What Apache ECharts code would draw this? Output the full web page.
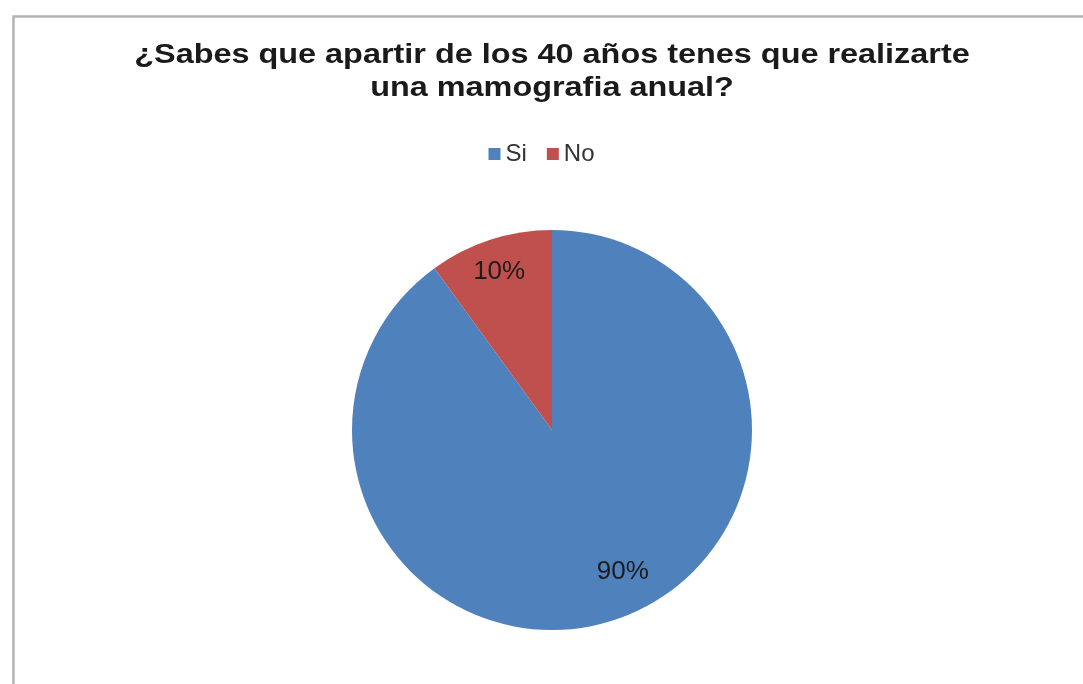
<!DOCTYPE html>
<html>
<head>
<meta charset="utf-8">
<script src="https://cdn.jsdelivr.net/npm/echarts@6/dist/echarts.min.js"></script>
<style>
  html, body { margin: 0; padding: 0; background: #ffffff; }
  #chart { width: 1083px; height: 684px; }
</style>
</head>
<body>
<div id="chart"></div>
<script>
// Survey answers and their share of respondents (%)
const categories = ['Si', 'No'];
const shares = [90, 10];
const colors = ['#4F81BD', '#C0504D'];
const titleLines = ['¿Sabes que apartir de los 40 años tenes que realizarte', 'una mamografia anual?'];

// Label nudges from the default inside position, per slice
const labelNudge = [[39, 44], [-21, -60]];

const FONT = 'Liberation Sans, Arial, sans-serif';

const chart = echarts.init(document.getElementById('chart'), null, { renderer: 'canvas' });

// Title lines drawn as wide bold text
const titleGraphics = titleLines.map((line, i) => ({
  type: 'text',
  x: 552,
  y: 56 + i * 33,
  scaleX: 1.2,
  silent: true,
  style: {
    text: line,
    font: 'bold 27px ' + FONT,
    fill: '#1a1a1a',
    align: 'center',
    verticalAlign: 'middle'
  }
}));

chart.setOption({
  backgroundColor: '#ffffff',
  animation: false,
  legend: {
    data: categories,
    top: 137,
    left: 'center',
    icon: 'rect',
    itemWidth: 12,
    itemHeight: 12,
    itemGap: 20,
    textStyle: {
      fontFamily: FONT,
      fontSize: 24,
      color: '#333333'
    }
  },
  graphic: [{
    type: 'rect',
    left: 11,
    top: 14,
    shape: { width: 1100, height: 720 },
    style: { fill: 'none', stroke: '#b4b4b4', lineWidth: 2.5 },
    silent: true,
    z: -1
  }].concat(titleGraphics),
  series: [{
    type: 'pie',
    center: [552, 430],
    radius: 200,
    startAngle: 90,
    clockwise: true,
    data: categories.map((name, i) => ({
      name,
      value: shares[i],
      itemStyle: { color: colors[i] }
    })),
    label: {
      show: true,
      position: 'inside',
      formatter: '{d}%',
      fontFamily: FONT,
      fontSize: 26,
      color: '#1c1c1c'
    },
    labelLayout: function (params) {
      const n = labelNudge[params.dataIndex];
      return { dx: n[0], dy: n[1] };
    },
    labelLine: { show: false },
    emphasis: { disabled: true },
    itemStyle: { borderWidth: 0 }
  }]
});
</script>
</body>
</html>
